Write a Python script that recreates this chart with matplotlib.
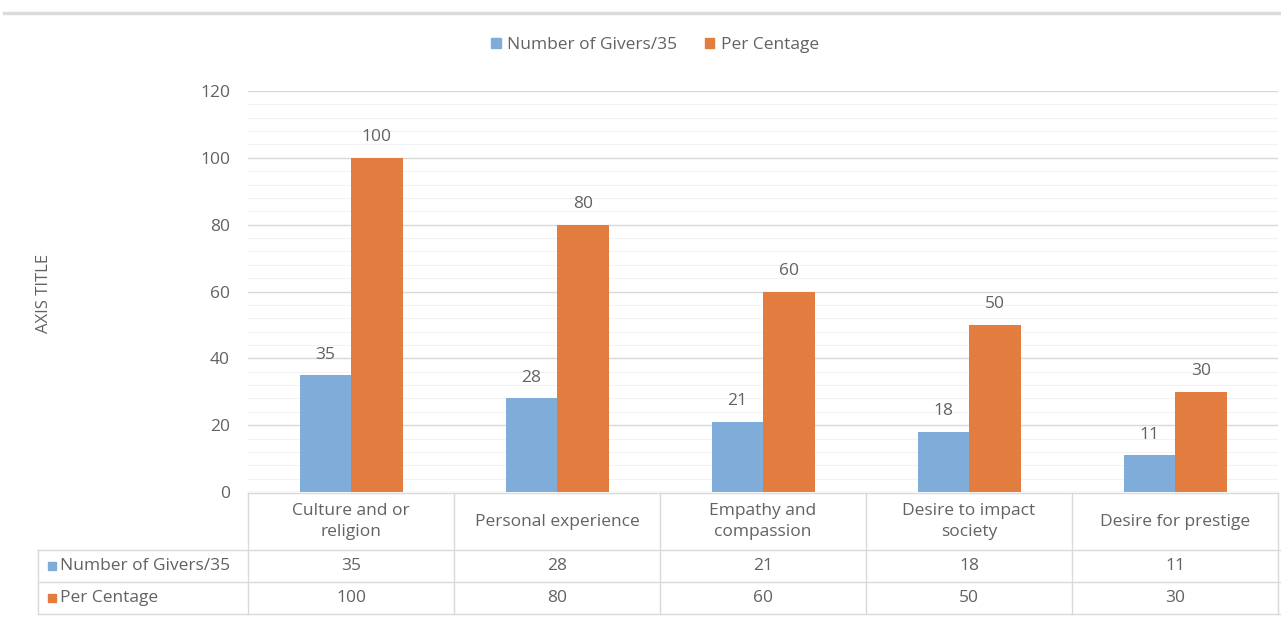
import numpy as np
import matplotlib
matplotlib.use("Agg")
import matplotlib.pyplot as plt
from matplotlib import transforms
from matplotlib.lines import Line2D
from matplotlib.patches import Rectangle

# data
categories = ["Culture and or\nreligion", "Personal experience", "Empathy and\ncompassion",
              "Desire to impact\nsociety", "Desire for prestige"]
series_names = ["Number of Givers/35", "Per Centage"]
givers = [35, 28, 21, 18, 11]
percentage = [100, 80, 60, 50, 30]
series_values = [givers, percentage]
y_ticks = [0, 20, 40, 60, 80, 100, 120]

colors = ["#80acd9", "#e27d3f"]
text_col = "#626262"
grid_col = "#d9d9d9"
fs = 12.5

W, H = 1281, 622
plt.rcParams["font.family"] = ["Open Sans", "DejaVu Sans"]

fig = plt.figure(figsize=(W / 100, H / 100), dpi=100)
ax = fig.add_axes([248 / W, 1 - 492 / H, (1278 - 248) / W, (492 - 91) / H])

x = np.arange(len(categories))
bw = 0.25
for k, (vals, col) in enumerate(zip(series_values, colors)):
    off = (k - 0.5) * bw
    bars = ax.bar(x + off, vals, bw, color=col, zorder=3, label=series_names[k])
    for b, v in zip(bars, vals):
        ax.annotate(str(v), (b.get_x() + b.get_width() / 2, v), xytext=(0, 9),
                    textcoords="offset points", ha="center", va="bottom",
                    fontsize=fs, color=text_col)

ax.set_xlim(-0.5, len(categories) - 0.5)
ax.set_ylim(0, 120)
ax.set_yticks(y_ticks)
ax.set_yticks(np.arange(0, 121, 4), minor=True)
ax.set_xticks([])
ax.tick_params(axis="y", which="both", length=0, pad=13, labelsize=fs, labelcolor=text_col)
ax.grid(axis="y", which="major", color=grid_col, lw=1, zorder=0)
ax.grid(axis="y", which="minor", color="#f2f2f2", lw=0.8, zorder=0)
for s in ax.spines.values():
    s.set_visible(False)

ax.set_ylabel("AXIS TITLE", fontsize=12, color=text_col)
ax.yaxis.set_label_coords(-0.190, 0.496)

# pixel transform (origin top-left)
pix = transforms.Affine2D().scale(1 / W, -1 / H).translate(0, 1) + fig.transFigure
cellx = transforms.blended_transform_factory(ax.transData, pix)

# data table under the plot
row_y = [493, 550, 582, 614]
lbl_x0 = 38
n = len(categories)
tab_lines = dict(color=grid_col, lw=1, clip_on=False)
# horizontal lines
fig.add_artist(Line2D([-0.5, n - 0.5], [row_y[0], row_y[0]], transform=cellx, **tab_lines))
for yy in row_y[1:]:
    fig.add_artist(Line2D([lbl_x0, W], [yy, yy], transform=pix, **tab_lines))
# vertical lines
for i in range(n + 1):
    fig.add_artist(Line2D([i - 0.5, i - 0.5], [row_y[0], row_y[-1]], transform=cellx, **tab_lines))
fig.add_artist(Line2D([lbl_x0, lbl_x0], [row_y[1], row_y[-1]], transform=pix, **tab_lines))

for i, cat in enumerate(categories):
    fig.text(i, (row_y[0] + row_y[1]) / 2, cat, transform=cellx, ha="center", va="center",
             fontsize=fs, color=text_col, linespacing=1.45)
    for r, vals in enumerate(series_values):
        fig.text(i, (row_y[r + 1] + row_y[r + 2]) / 2, str(vals[i]), transform=cellx,
                 ha="center", va="center", fontsize=fs, color=text_col)

for r, (name, col) in enumerate(zip(series_names, colors)):
    yc = (row_y[r + 1] + row_y[r + 2]) / 2
    fig.add_artist(Rectangle((48, yc + 4), 8, -8, transform=pix, color=col))
    fig.text(60, yc, name, transform=pix, ha="left", va="center", fontsize=fs, color=text_col)

# legend
handles = [Rectangle((0, 0), 1, 1, color=c) for c in colors]
fig.legend(handles, series_names, loc="center", bbox_to_anchor=(655 / W, 1 - 45 / H),
           ncol=2, frameon=False, fontsize=fs, labelcolor=text_col,
           handlelength=0.55, handleheight=0.55, handletextpad=0.35, columnspacing=1.6)

# top border line of the screenshot
fig.add_artist(Line2D([4, W], [13, 13], transform=pix, color="#dcdcdc", lw=2.5))

fig.savefig("out.png", dpi=100)
